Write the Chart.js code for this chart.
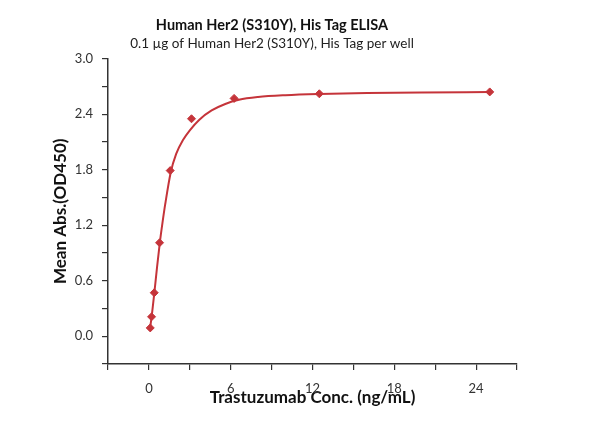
<!DOCTYPE html>
<html>
<head>
<meta charset="utf-8">
<script src="https://cdn.jsdelivr.net/npm/chart.js@4"></script>
<style>
  body { margin: 0; background: #fff; }
  #wrap { width: 599px; height: 428px; }
</style>
</head>
<body>
<div id="wrap"><canvas id="elisaChart" width="599" height="428"></canvas></div>
<script>
// measured points
var concentrations = [0.098, 0.195, 0.391, 0.781, 1.563, 3.125, 6.25, 12.5, 25];
var meanAbs = [0.09, 0.21, 0.47, 1.01, 1.79, 2.35, 2.57, 2.62, 2.64];

// fitted curve
var fitConc = [0.098, 0.2, 0.4, 0.6, 0.8, 1.0, 1.2, 1.6, 2.0, 2.5, 3.0, 3.7, 4.6, 5.6, 6.6, 8, 10, 12.5, 16, 20, 25];
var fitAbs = [0.1, 0.21, 0.47, 0.75, 1.01, 1.23, 1.43, 1.77, 1.97, 2.12, 2.225, 2.34, 2.44, 2.51, 2.555, 2.585, 2.605, 2.618, 2.628, 2.634, 2.638];

var xTickLabels = [0, 6, 12, 18, 24];
var yTickLabels = [0.0, 0.6, 1.2, 1.8, 2.4, 3.0];

var red = '#c5343a';
var axisColor = '#333333';

var points = concentrations.map(function (c, i) { return { x: c, y: meanAbs[i] }; });
var curve = fitConc.map(function (c, i) { return { x: c, y: fitAbs[i] }; });

var ctx = document.getElementById('elisaChart').getContext('2d');
var myChart = new Chart(ctx, {
    type: 'scatter',
    data: {
        datasets: [{
            label: 'Fit',
            data: curve,
            showLine: true,
            borderColor: red,
            borderWidth: 2,
            pointRadius: 0,
            cubicInterpolationMode: 'monotone',
            fill: false
        }, {
            label: 'Mean Abs.',
            data: points,
            pointStyle: 'rectRot',
            pointRadius: 4,
            backgroundColor: red,
            borderColor: red,
            borderWidth: 1
        }]
    },
    options: {
        responsive: false,
        animation: false,
        layout: { padding: { left: 27, right: 82, top: 0, bottom: 0 } },
        plugins: {
            legend: { display: false },
            tooltip: { enabled: false },
            title: {
                display: true,
                text: 'Human Her2 (S310Y), His Tag ELISA',
                color: '#111',
                font: { family: 'Lato', size: 14.5, weight: 'bold' },
                padding: { top: 17, bottom: 0 }
            },
            subtitle: {
                display: true,
                text: '0.1 µg of Human Her2 (S310Y), His Tag per well',
                color: '#222',
                font: { family: 'Lato', size: 13.5 },
                padding: { top: 1, bottom: 7 }
            }
        },
        scales: {
            x: {
                type: 'linear',
                min: -3,
                max: 27,
                afterFit: function (scale) { scale.height = 64; },
                border: { display: true, color: axisColor, width: 1.5 },
                grid: { drawOnChartArea: false, drawTicks: true, tickLength: 6, color: axisColor, lineWidth: 1.2 },
                ticks: {
                    stepSize: 3,
                    padding: 11,
                    color: axisColor,
                    font: { family: 'Lato', size: 13 },
                    maxRotation: 0,
                    autoSkip: false,
                    callback: function (v) {
                        return xTickLabels.indexOf(v) >= 0 ? String(v) : '';
                    }
                },
                title: {
                    display: true,
                    text: 'Trastuzumab Conc. (ng/mL)',
                    color: '#111',
                    font: { family: 'Lato', size: 17, weight: 'bold' },
                    padding: { top: 0, bottom: 20 }
                }
            },
            y: {
                type: 'linear',
                min: -0.3,
                max: 3.0,
                afterFit: function (scale) { scale.width = 81; },
                border: { display: true, color: axisColor, width: 1.5 },
                grid: { drawOnChartArea: false, drawTicks: true, tickLength: 6, color: axisColor, lineWidth: 1.2 },
                ticks: {
                    stepSize: 0.3,
                    padding: 9,
                    color: axisColor,
                    font: { family: 'Lato', size: 13 },
                    autoSkip: false,
                    callback: function (v) {
                        var r = Math.round(v * 10) / 10;
                        for (var i = 0; i < yTickLabels.length; i++) {
                            if (Math.abs(yTickLabels[i] - r) < 1e-6) return r.toFixed(1);
                        }
                        return '';
                    }
                },
                title: {
                    display: true,
                    text: 'Mean Abs.(OD450)',
                    color: '#111',
                    font: { family: 'Lato', size: 17, weight: 'bold' },
                    padding: { top: 23, bottom: 0 }
                }
            }
        }
    }
});
</script>
</body>
</html>
